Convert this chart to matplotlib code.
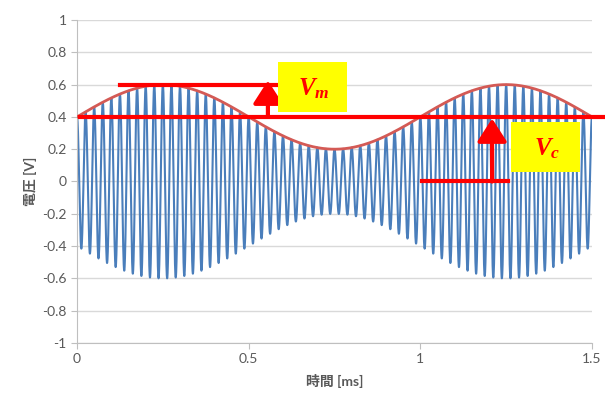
import numpy as np
import matplotlib
matplotlib.use('Agg')
import matplotlib.pyplot as plt
from matplotlib.patches import Rectangle
from matplotlib.ticker import FuncFormatter

# values
carrier_amp = 0.4        # Vc [V]
mod_amp = 0.2            # Vm [V]
mod_freq = 1.0           # [kHz]
carrier_freq = 40.0      # [kHz]
t_end = 1.5              # [ms]
y_ticks = [-1, -0.8, -0.6, -0.4, -0.2, 0, 0.2, 0.4, 0.6, 0.8, 1]
x_ticks = [0, 0.5, 1, 1.5]

plt.rcParams['font.family'] = ['Lato', 'Noto Sans CJK JP', 'DejaVu Sans']
plt.rcParams['mathtext.fontset'] = 'custom'
plt.rcParams['mathtext.it'] = 'Liberation Serif:italic:bold'
plt.rcParams['mathtext.rm'] = 'Liberation Serif:bold'

t = np.linspace(0, t_end, 9001)
env = carrier_amp + mod_amp * np.sin(2 * np.pi * mod_freq * t)
v = env * np.cos(2 * np.pi * carrier_freq * t)

fig = plt.figure(figsize=(6.05, 4.03), dpi=100)
ax = fig.add_axes([0.1273, 0.1489, 0.8512, 0.8015])

ax.plot(t, v, color='#4a7ebb', lw=1.5, zorder=2)
ax.plot(t, env, color='#d45a55', lw=2.0, zorder=3)

ax.set_xlim(0, t_end)
ax.set_ylim(-1, 1)
ax.set_yticks(y_ticks)
ax.set_xticks(x_ticks)
ax.yaxis.set_major_formatter(FuncFormatter(lambda x, p: '%g' % x))
ax.xaxis.set_major_formatter(FuncFormatter(lambda x, p: '%g' % x))
ax.grid(axis='y', color='#d9d9d9', lw=1)
ax.set_axisbelow(True)
for s in ['top', 'right']:
    ax.spines[s].set_visible(False)
for s in ['left', 'bottom']:
    ax.spines[s].set_color('#bfbfbf')
ax.tick_params(colors='#bfbfbf', labelcolor='#595959', labelsize=10, length=4)
ax.set_xlabel('時間 [ms]', color='#595959', fontsize=10, fontweight='bold', labelpad=6)
ax.set_ylabel('電圧 [V]', color='#595959', fontsize=10, fontweight='bold', labelpad=4)

red = '#ff0000'
# Vc / Vm guide lines
ax.plot([0.01, 1.54], [carrier_amp, carrier_amp], color=red, lw=3, clip_on=False, zorder=5)
ax.plot([0.125, 0.585], [carrier_amp + mod_amp] * 2, color=red, lw=3, clip_on=False, zorder=5)
ax.plot([1.005, 1.255], [0, 0], color=red, lw=3, clip_on=False, zorder=5)

arrow = dict(arrowstyle='-|>,head_width=0.45,head_length=0.7', color=red, lw=3,
             shrinkA=0, shrinkB=0, mutation_scale=20)
ax.annotate('', xy=(0.556, 0.625), xytext=(0.556, carrier_amp), arrowprops=arrow, zorder=6)
ax.annotate('', xy=(1.209, 0.39), xytext=(1.209, 0), arrowprops=arrow, zorder=6)

ax.add_patch(Rectangle((0.585, 0.431), 0.201, 0.309, facecolor='#ffff00', edgecolor='none',
                       zorder=6, clip_on=False))
ax.add_patch(Rectangle((1.264, 0.06), 0.201, 0.309, facecolor='#ffff00', edgecolor='none',
                       zorder=6, clip_on=False))
ax.text(0.69, 0.575, r'$V_m$', color=red, fontsize=18,
        ha='center', va='center', zorder=7)
ax.text(1.37, 0.205, r'$V_c$', color=red, fontsize=18,
        ha='center', va='center', zorder=7)

fig.savefig('out.png', dpi=100)
